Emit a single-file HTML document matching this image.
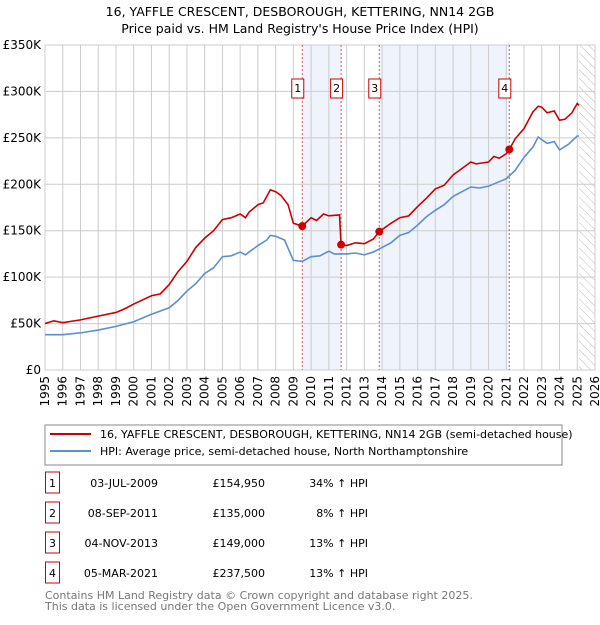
<!DOCTYPE html>
<html><head><meta charset="utf-8"><style>
body{margin:0;background:#fff;font-family:"Liberation Sans","DejaVu Sans",sans-serif;}
svg text{font-family:"DejaVu Sans","Liberation Sans",sans-serif;}
</style></head><body>
<svg id="c" width="600" height="620" xmlns="http://www.w3.org/2000/svg">
<defs><pattern id="hatch" width="6" height="6" patternUnits="userSpaceOnUse" patternTransform="rotate(-45)"><line x1="0" y1="0" x2="0" y2="6" stroke="#bbb" stroke-width="1"/></pattern></defs>
<text x="300" y="16" text-anchor="middle" font-size="12.5">16, YAFFLE CRESCENT, DESBOROUGH, KETTERING, NN14 2GB</text>
<text x="300" y="33" text-anchor="middle" font-size="12.5">Price paid vs. HM Land Registry's House Price Index (HPI)</text>
<g id="plot"></g>
<rect x="45" y="425" width="517" height="40" fill="none" stroke="#888"/>
<line x1="50" y1="434" x2="91" y2="434" stroke="#cc0000" stroke-width="2"/>
<text x="100" y="438" font-size="11">16, YAFFLE CRESCENT, DESBOROUGH, KETTERING, NN14 2GB (semi-detached house)</text>
<line x1="50" y1="451" x2="91" y2="451" stroke="#5b8fd4" stroke-width="2"/>
<text x="100" y="455" font-size="11">HPI: Average price, semi-detached house, North Northamptonshire</text>
<g id="tbl" font-size="11"></g>
<text x="45" y="599" font-size="11" fill="#777">Contains HM Land Registry data © Crown copyright and database right 2025.</text>
<text x="45" y="610" font-size="11" fill="#777">This data is licensed under the Open Government Licence v3.0.</text>
</svg>
<script>
const NS="http://www.w3.org/2000/svg";
const redT=[1995,1995.5,1996,1997,1998,1999,1999.5,2000,2001,2001.5,2002,2002.5,2003,2003.5,2004,2004.5,2005,2005.5,2006,2006.3,2006.5,2007,2007.3,2007.7,2008,2008.3,2008.7,2009,2009.5,2010,2010.3,2010.7,2011,2011.6,2011.69,2012,2012.5,2013,2013.5,2013.84,2014.5,2015,2015.5,2016,2016.5,2017,2017.5,2018,2018.5,2019,2019.3,2020,2020.3,2020.6,2021,2021.17,2021.5,2022,2022.5,2022.8,2023,2023.3,2023.7,2024,2024.3,2024.7,2025,2025.1];
const redV=[50,53,51,54,58,62,66,71,80,82,92,106,117,132,142,150,162,164,168,164,170,178,180,194,192,188,178,158,155,164,161,168,166,167,135,134,137,136,141,149,158,164,166,176,185,195,199,210,217,224,222,224,230,228,233,237.5,249,260,278,284,283,277,279,269,270,277,287,285];
const hpiT=[1995,1996,1997,1998,1999,2000,2000.5,2001,2002,2002.5,2003,2003.5,2004,2004.5,2005,2005.5,2006,2006.3,2006.5,2007,2007.5,2007.7,2008,2008.5,2009,2009.5,2010,2010.5,2011,2011.3,2012,2012.5,2013,2013.5,2014,2014.5,2015,2015.5,2016,2016.5,2017,2017.5,2018,2018.5,2019,2019.5,2020,2020.5,2021,2021.5,2022,2022.5,2022.8,2023,2023.3,2023.7,2024,2024.5,2025,2025.1];
const hpiV=[38,38,40,43,47,52,56,60,67,75,85,93,104,110,122,123,127,124,127,134,140,145,144,140,118,117,122,123,128,125,125,126,124,127,132,137,145,148,156,165,172,178,187,192,197,196,198,202,206,215,229,240,251,248,244,246,237,243,252,252];
const saleT=[2009.5,2011.69,2013.84,2021.17];
const saleV=[154.95,135,149,237.5];
const saleLabels=["1","2","3","4"];
const saleDates=["03-JUL-2009","08-SEP-2011","04-NOV-2013","05-MAR-2021"];
const salePrices=["£154,950","£135,000","£149,000","£237,500"];
const saleHpi=["34% ↑ HPI","8% ↑ HPI","13% ↑ HPI","13% ↑ HPI"];
const yTicks=[0,50,100,150,200,250,300,350];
const yTickLabels=["£0","£50K","£100K","£150K","£200K","£250K","£300K","£350K"];
const x0=45,x1=595,y0=370,y1=45;
const X=t=>x0+(t-1995)*(x1-x0)/31;
const Y=v=>y0-v*(y0-y1)/350;
const g=document.getElementById('plot');
function mk(tag,attrs,parent){const e=document.createElementNS(NS,tag);for(const k in attrs)e.setAttribute(k,attrs[k]);(parent||g).appendChild(e);return e;}
for(let i=0;i<saleT.length;i+=2){
 const r=mk('rect',{x:X(saleT[i]),y:y1,width:X(saleT[i+1])-X(saleT[i]),height:y0-y1,fill:'#eef3fc'});
 
 
}
const hat=mk('rect',{x:X(2025.1),y:y1,width:x1-X(2025.1),height:y0-y1,fill:'url(#hatch)'});


for(let yr=1995;yr<=2026;yr++){
 const l=mk('line',{x1:X(yr),x2:X(yr),y1:y1,y2:y0,stroke:'#ccc'});
 
 
 const t=mk('text',{x:0,y:0,'font-size':12,'text-anchor':'end',transform:`translate(${X(yr)+4},${y0+6}) rotate(-90)`});
 t.textContent=yr;
 
 
}
yTicks.forEach((v,i)=>{
 const l=mk('line',{x1:x0,x2:x1,y1:Y(v),y2:Y(v),stroke:'#ccc'});
 
 
 const t=mk('text',{x:x0-4,y:Y(v)+4,'font-size':12,'text-anchor':'end'});
 t.textContent=yTickLabels[i];
 
 
});
const ax=mk('rect',{x:x0,y:y1,width:x1-x0,height:y0-y1,fill:'none',stroke:'#ccc'});


saleT.forEach((t,i)=>{
 const l=mk('line',{x1:X(t),x2:X(t),y1:y1,y2:y0,stroke:'#e55','stroke-dasharray':'2,2'});
 
 
 const b=mk('rect',{x:X(t)-10.5,y:79,width:12,height:19,fill:'#fff',stroke:'#cc0000'});
 
 
 const tx=mk('text',{x:X(t)-4.5,y:92,'font-size':11,'text-anchor':'middle'});
 tx.textContent=saleLabels[i];
 
 
});
const hp=mk('polyline',{points:hpiT.map((t,i)=>X(t)+','+Y(hpiV[i])).join(' '),fill:'none',stroke:'#5b8fd4','stroke-width':1.6});


const rp=mk('polyline',{points:redT.map((t,i)=>X(t)+','+Y(redV[i])).join(' '),fill:'none',stroke:'#cc0000','stroke-width':1.6});


saleT.forEach((t,i)=>{
 const c=mk('circle',{cx:X(t),cy:Y(saleV[i]),r:4,fill:'#cc0000'});
 
 
});
const tb=document.getElementById('tbl');
saleT.forEach((t,i)=>{
 const y=483+i*30;
 const b=mk('rect',{x:45.5,y:y-11,width:14,height:21,fill:'none',stroke:'#cc0000'},tb);
 
 
 const cols=[[52.5,saleLabels[i],'middle'],[158,saleDates[i],'end'],[265,salePrices[i],'end'],[368,saleHpi[i],'end']];
 cols.forEach(([x,s,a],j)=>{
  const tx=mk('text',{x:x,y:y+4,'text-anchor':a},tb);
  tx.textContent=s;
  
  
 });
});
</script>
</body></html>
